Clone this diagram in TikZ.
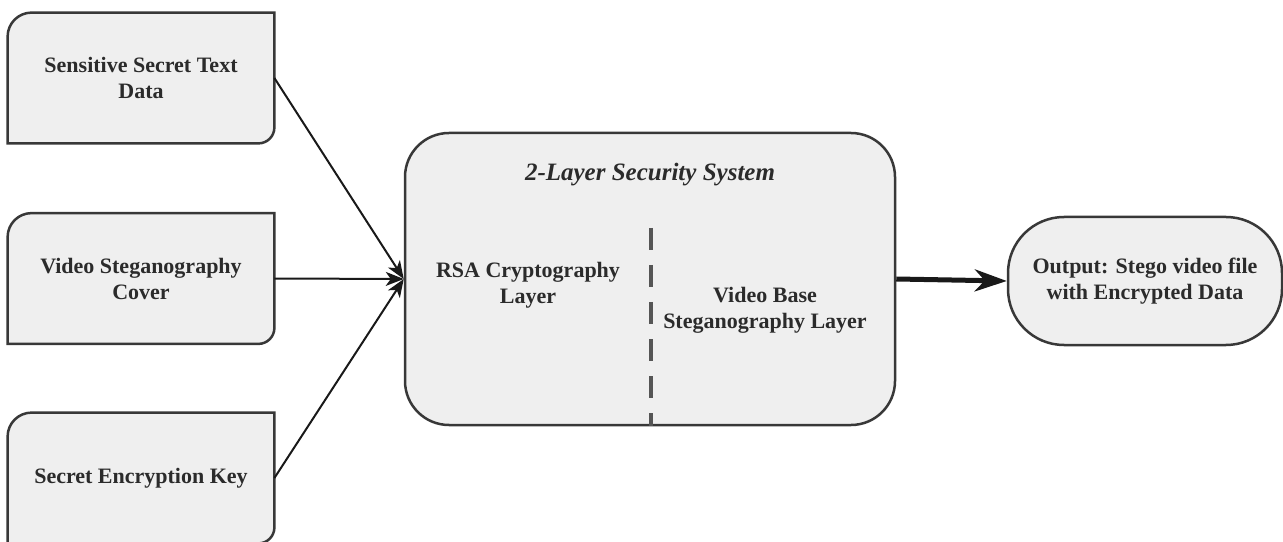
\documentclass[tikz,border=0pt]{standalone}
\usepackage{fontspec}
\setmainfont{LiberationSerif}[Extension=.ttf, UprightFont=*-Regular, BoldFont=*-Bold,
  ItalicFont=*-Italic, BoldItalicFont=*-BoldItalic]
\usetikzlibrary{arrows.meta,backgrounds}

\definecolor{boxfill}{HTML}{EFEFEF}
\definecolor{boxline}{HTML}{383838}
\definecolor{inktext}{HTML}{2B2B2B}
\definecolor{dashgray}{HTML}{555555}

\tikzset{
  inbox/.style={minimum width=133pt, minimum height=65pt, inner sep=0pt, align=center,
    text=inktext, font=\bfseries\fontsize{11}{13}\selectfont},
  inshape/.style={draw=boxline, fill=boxfill, line width=1.25pt},
  sysbox/.style={draw=boxline, fill=boxfill, line width=1.25pt, rounded corners=22pt,
    minimum width=245pt, minimum height=146pt, inner sep=0pt},
  layer/.style={align=center, text=inktext, font=\bfseries\fontsize{11}{13}\selectfont},
  outbox/.style={draw=boxline, fill=boxfill, line width=1.25pt, rounded corners=28pt,
    minimum width=137pt, minimum height=64pt, inner sep=0pt, align=center,
    text=inktext, font=\bfseries\fontsize{11}{13}\selectfont},
  feed/.style={draw=black!90, line width=1pt, -{Stealth[length=9pt,width=7pt,inset=2.5pt]}},
  outflow/.style={draw=black!90, line width=2.5pt, -{Stealth[length=16pt,width=11pt,inset=5pt]}},
  divider/.style={draw=dashgray, line width=2pt, dash pattern=on 11pt off 7.5pt}
}

\begin{document}
\begin{tikzpicture}[x=0.5pt,y=0.5pt]
\useasboundingbox (0,0) rectangle (1283,541);

% inputs
\node[inbox] (Secret) at (141,463) {Sensitive Secret Text\\Data};
\node[inbox] (Cover) at (141,262.5) {Video Steganography\\Cover};
\node[inbox] (Key) at (141,63) {Secret Encryption Key};
\begin{scope}[on background layer]
\foreach \n in {Secret,Cover,Key}
  \path[inshape] ([yshift=-12pt]\n.north west) arc[start angle=180,end angle=90,radius=12pt]
    -- (\n.north east) -- ([yshift=8pt]\n.south east) arc[start angle=0,end angle=-90,radius=8pt]
    -- (\n.south west) -- cycle;
\end{scope}

% security system
\node[sysbox] (System) at (650,262) {};
\node[font=\bfseries\itshape\fontsize{12.5}{14}\selectfont, text=inktext] (Title) at (650,366) {2-Layer Security System};
\node[layer] (RSA) at (528,256) {RSA Cryptography\\Layer};
\node[layer] (Stego) at (765,231) {Video Base\\Steganography Layer};
\coordinate (DivTop) at (651,313);
\draw[divider] (DivTop) -- (DivTop |- System.south);

% output
\node[outbox] (Output) at (1145,260) {Output: Stego video file\\with Encrypted Data};

\draw[feed] (Secret.east) -- (System.west);
\draw[feed] (Cover.east) -- (System.west);
\draw[feed] (Key.east) -- (System.west);
\draw[outflow] (System.east) -- (Output.west);
\end{tikzpicture}
\end{document}
